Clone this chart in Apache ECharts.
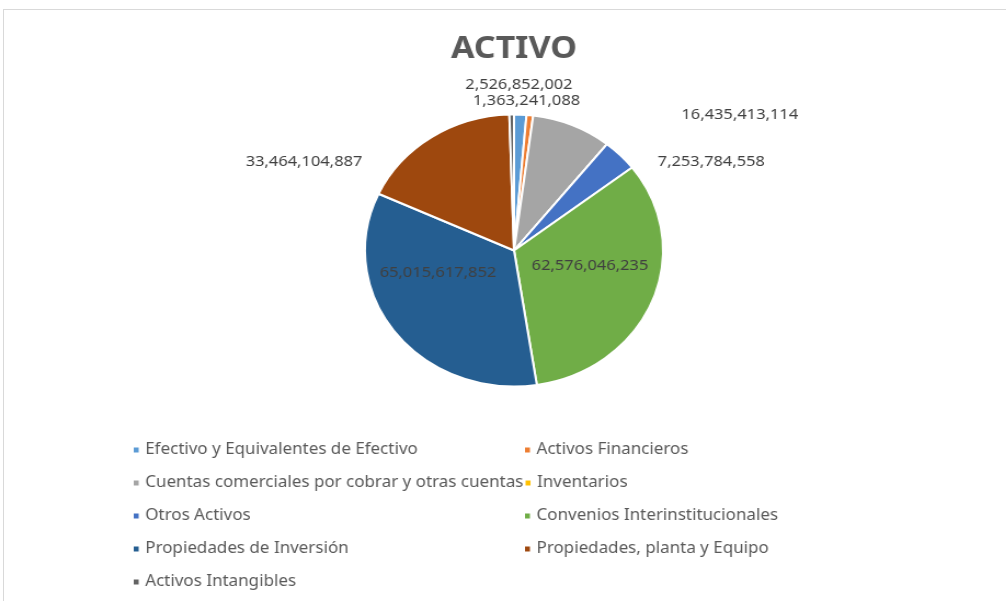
<!DOCTYPE html>
<html>
<head>
<meta charset="utf-8">
<script src="https://cdn.jsdelivr.net/npm/echarts@6/dist/echarts.min.js"></script>
<style>
  html, body { margin: 0; padding: 0; background: #fff; overflow: hidden; width: 1006px; height: 601px; }
  /* marco del área de gráfico (solo se ven arriba e izquierda) */
  .frame { position: absolute; left: 3px; top: 9px; width: 1100px; height: 700px; border: 1px solid #d9d9d9; }
  /* la captura original está estirada en horizontal */
  #chart { position: absolute; left: 0; top: 0; width: 938px; height: 601px; transform-origin: 0 0; transform: scaleX(1.096); }
</style>
</head>
<body>
<div class="frame"></div>
<div id="chart"></div>
<script>
// datos del gráfico
const categories = [
  'Efectivo y Equivalentes de Efectivo',
  'Activos Financieros',
  'Cuentas comerciales por cobrar y otras cuentas',
  'Inventarios',
  'Otros Activos',
  'Convenios Interinstitucionales',
  'Propiedades de Inversión',
  'Propiedades, planta y Equipo',
  'Activos Intangibles'
];
const values = [
  2526852002,
  1363241088,
  16435413114,
  0,
  7253784558,
  62576046235,
  65015617852,
  33464104887,
  950000000
];
// qué etiquetas se muestran en el gráfico
const showLabel = [true, true, true, false, true, true, true, true, false];

// estilos
const colors = ['#5B9BD5', '#ED7D31', '#A5A5A5', '#FFC000', '#4472C4', '#70AD47', '#255E91', '#9E480E', '#636363'];
// desplazamiento de cada etiqueta respecto al centro del pastel
const labelOffsets = [
  [4.5, -165.5], [11.4, -149.5], [206, -135.5], [0, 0], [180, -88.5],
  [69.3, 15.5], [-69.4, 22.5], [-191.6, -88.5], [0, 0]
];

const myChart = echarts.init(document.getElementById('chart'));
const centerY = 250.5;

const fmt = v => v.toLocaleString('en-US');

const options = {
  animation: false,
  color: colors,
  title: {
    text: 'ACTIVO',
    left: 'center',
    top: 26,
    textStyle: {
      fontFamily: 'Noto Sans',
      fontSize: 31,
      fontWeight: 'bold',
      color: '#595959',
      lineHeight: 36
    }
  },
  legend: {
    left: 115,
    top: 428.5,
    width: 740,
    orient: 'horizontal',
    icon: 'rect',
    itemWidth: 6.5,
    itemHeight: 7,
    itemGap: 0,
    selectedMode: false,
    data: categories,
    formatter: name => '{t|' + name + '}',
    textStyle: {
      rich: {
        t: {
          width: 344.5,
          height: 33,
          lineHeight: 33,
          fontFamily: 'Noto Sans',
          fontSize: 15.5,
          color: '#595959'
        }
      }
    }
  },
  series: [
    {
      type: 'pie',
      center: ['50%', centerY],
      radius: 136,
      startAngle: 90,
      clockwise: true,
      avoidLabelOverlap: false,
      itemStyle: {
        borderColor: '#fff',
        borderWidth: 2
      },
      label: {
        show: true,
        position: 'inside',
        fontFamily: 'Noto Sans',
        fontSize: 15,
        color: '#404040',
        formatter: p => fmt(p.value)
      },
      labelLine: { show: false },
      labelLayout: params => {
        const off = labelOffsets[params.dataIndex];
        const cx = myChart.getWidth() / 2;
        return {
          x: cx + off[0],
          y: centerY + off[1],
          align: 'center',
          verticalAlign: 'middle'
        };
      },
      data: categories.map((name, i) => ({
        name: name,
        value: values[i],
        label: { show: showLabel[i] }
      }))
    }
  ]
};

myChart.setOption(options);
</script>
</body>
</html>
